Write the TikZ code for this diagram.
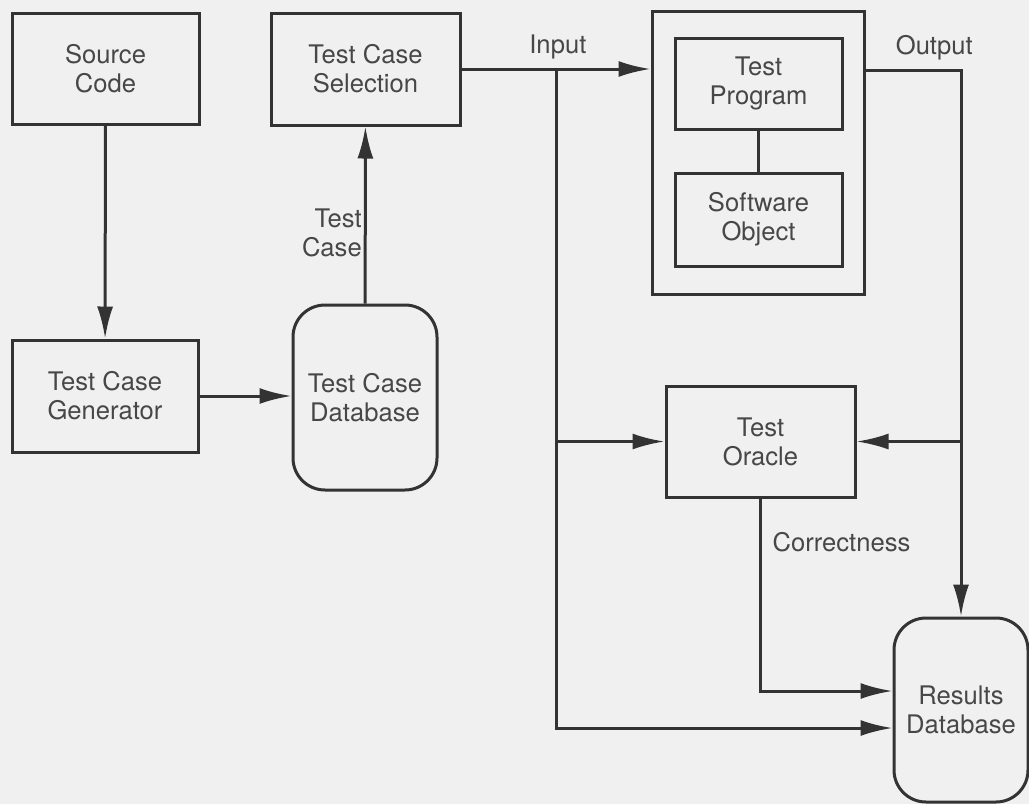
\documentclass[tikz,border=0pt]{standalone}
\usepackage{fontspec}
\setmainfont{TeX Gyre Heros}
\usetikzlibrary{arrows.meta}

\begin{document}
\begin{tikzpicture}[x=0.5pt, y=-0.5pt, line width=1.5pt, color=black!80, text=black!72,
  font=\fontsize{12.8}{14.5}\selectfont,
  >={Latex[length=16pt, width=8pt]},
  box/.style={draw, rectangle, inner sep=0pt, align=center},
  store/.style={box, rounded corners=16pt}]
\fill [black!6] (0,0) rectangle (1029,804);
\useasboundingbox (0,0) rectangle (1029,804);
\node[box, minimum width=93.5pt, minimum height=55.5pt] (src) at (105.5,68.5) {Source\\Code};
\node[box, minimum width=94.5pt, minimum height=56pt] (sel) at (365.5,69) {Test Case\\Selection};
\node[box, minimum width=93pt, minimum height=56pt] (gen) at (105,396) {Test Case\\Generator};
\node[store, minimum width=72pt, minimum height=92.5pt] (tcdb) at (365,397.5) {Test Case\\Database};
\node[box, minimum width=106pt, minimum height=141.5pt] (big) at (758,152.5) {};
\node[box, minimum width=83.5pt, minimum height=45.5pt] (prog) at (758.5,83.5) {Test\\Program};
\node[box, minimum width=83.5pt, minimum height=46.5pt] (sobj) at (758.5,219.5) {Software\\Object};
\node[box, minimum width=94.5pt, minimum height=55.5pt] (orc) at (760.5,441.5) {Test\\Oracle};
\node[store, minimum width=67pt, minimum height=92pt] (res) at (961,710) {Results\\Database};
\coordinate (inj) at (556,70);
\coordinate (outj) at (961,441.5);
\draw [->] (src) -- (gen);
\draw [->] (gen.east) -- (gen.east -| tcdb.west);
\draw [->] (tcdb) -- (sel) node[left, pos=.4, align=right, inner sep=1pt]{Test\\Case};
\draw [->] (sel.east) -- (sel.east -| big.west) node[above=1pt, pos=.51]{Input};
\draw (prog) -- (sobj);
\draw [->] (big.east |- inj) -| (res.north) node[above=1pt, pos=.36]{Output};
\draw [->] (inj) |- (orc.west);
\draw [->] (outj) -- (orc.east);
\draw [->] (inj) |- ([yshift=-9pt]res.west);
\draw [->] (orc.south) |- ([yshift=9.5pt]res.west) node[above right, xshift=2pt, pos=.16]{Correctness};
\end{tikzpicture}
\end{document}
